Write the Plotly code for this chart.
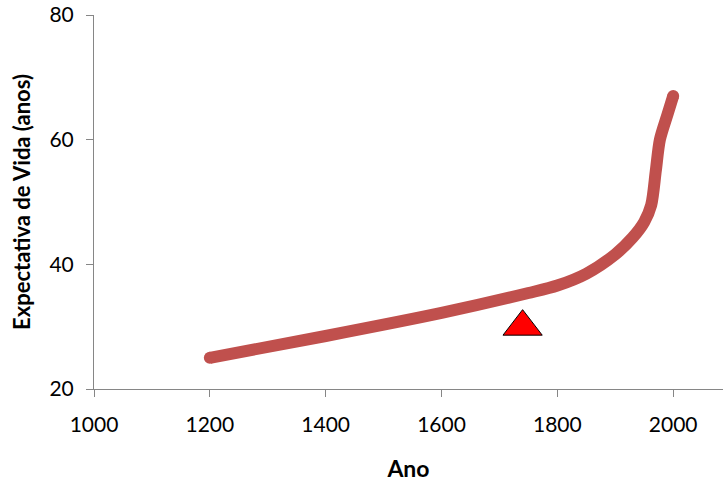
import plotly.graph_objects as go

years = [1200, 1400, 1600, 1750, 1800, 1850, 1900, 1930, 1950, 1962, 1970, 1977, 1990, 2000]
life_exp = [25.0, 28.5, 32.2, 35.4, 36.6, 38.5, 41.6, 44.3, 46.8, 49.5, 55.0, 60.0, 64.0, 67.0]

marker_year = [1740]
marker_value = [30]

x_ticks = [1000, 1200, 1400, 1600, 1800, 2000]
y_ticks = [20, 40, 60, 80]

red_line = "#C0504D"
axis_grey = "#868686"

end_sizes = [12 if i in (0, len(years) - 1) else 0 for i in range(len(years))]

fig = go.Figure()
fig.add_trace(go.Scatter(
    x=years, y=life_exp, mode="lines+markers",
    line=dict(color=red_line, width=12, shape="spline", smoothing=0.8),
    marker=dict(size=end_sizes, color=red_line, opacity=1, line=dict(width=0)),
    hoverinfo="skip", showlegend=False,
))
fig.add_trace(go.Scatter(
    x=marker_year, y=marker_value, mode="markers",
    marker=dict(symbol="triangle-up", size=34, color="#FF0000",
                line=dict(color="#000000", width=1)),
    showlegend=False,
))

fig.update_layout(
    width=723, height=483,
    margin=dict(l=94, r=0, t=15, b=94, autoexpand=False),
    plot_bgcolor="white", paper_bgcolor="white",
    font=dict(family="Lato", size=21, color="#000000"),
    xaxis=dict(
        range=[1000, 2086], tickvals=x_ticks, ticktext=[str(v) for v in x_ticks],
        showgrid=False, zeroline=False, showline=True, linecolor=axis_grey, linewidth=1,
        ticks="outside", ticklen=7, tickcolor=axis_grey, tickwidth=1,
        tickfont=dict(size=21), ticklabelstandoff=10, automargin=False,
        title=dict(text="<b>Ano</b>", font=dict(size=23), standoff=25),
    ),
    yaxis=dict(
        range=[20, 80], tickvals=y_ticks, ticktext=[str(v) for v in y_ticks],
        showgrid=False, zeroline=False, showline=True, linecolor=axis_grey, linewidth=1,
        ticks="outside", ticklen=7, tickcolor=axis_grey, tickwidth=1,
        tickfont=dict(size=21), ticklabelstandoff=8, automargin=False,
        title=dict(text="<b>Expectativa de Vida (anos)</b>", font=dict(size=22), standoff=12),
    ),
)

fig.write_html("out.html", config={"displayModeBar": False},
               post_script="document.body.style.margin='0';")
